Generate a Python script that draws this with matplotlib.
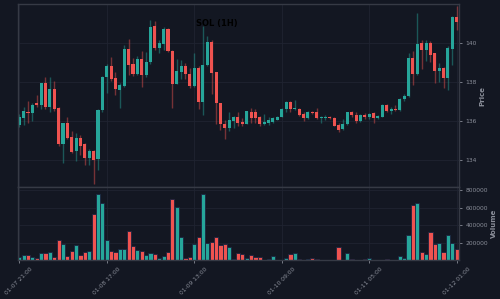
import pandas as pd
import numpy as np
import matplotlib
matplotlib.use("Agg")
import matplotlib.pyplot as plt

# hourly SOL candles, 2024-01-07 21:00 -> 2024-01-12 01:00
opens = [135.78, 136.14, 136.43, 136.39, 136.89, 136.80, 137.92, 136.73, 137.65, 136.68,
         134.81, 135.88, 135.15, 134.47, 135.10, 134.81, 134.09, 134.47, 134.04, 136.56,
         138.26, 138.84, 138.18, 137.58, 137.79, 139.69, 138.94, 138.38, 139.18, 138.33,
         139.01, 140.85, 139.74, 139.97, 140.71, 139.57, 137.91, 138.50, 138.84, 138.38,
         137.79, 138.69, 136.97, 138.89, 140.03, 138.50, 136.89, 135.83, 135.61, 136.00,
         136.19, 135.95, 135.86, 136.46, 136.46, 136.17, 135.83, 135.88, 135.95, 136.05,
         136.20, 136.60, 136.99, 136.60, 136.63, 136.37, 136.12, 136.44, 136.43, 136.12,
         136.14, 136.22, 136.12, 135.78, 135.57, 135.83, 136.43, 136.32, 136.00, 136.29,
         136.17, 136.39, 136.15, 136.22, 136.80, 136.51, 136.60, 136.55, 137.14, 137.28,
         139.23, 138.38, 140.00, 139.63, 140.00, 139.46, 138.55, 138.72, 138.21, 139.69,
         141.33]
highs = [136.34, 136.73, 137.02, 136.94, 137.33, 137.96, 138.25, 138.26, 138.04, 136.73,
         135.91, 136.17, 135.46, 135.35, 135.27, 134.84, 134.55, 134.50, 136.60, 138.30,
         138.94, 139.29, 138.50, 137.96, 139.91, 140.20, 139.23, 139.35, 139.57, 139.52,
         141.19, 141.11, 140.17, 140.82, 140.75, 139.66, 139.18, 139.10, 138.98, 138.72,
         139.49, 138.81, 140.85, 140.34, 140.17, 138.50, 136.94, 136.05, 136.46, 136.26,
         136.43, 136.12, 136.51, 136.68, 136.60, 136.26, 136.34, 136.17, 136.17, 136.26,
         136.68, 137.02, 137.02, 137.06, 136.68, 136.46, 136.51, 136.51, 136.68, 136.26,
         136.30, 136.26, 136.17, 135.91, 136.09, 136.46, 136.51, 136.43, 136.34, 136.39,
         136.39, 136.43, 136.29, 136.85, 136.85, 136.73, 136.80, 137.19, 137.36, 139.49,
         139.57, 141.53, 140.14, 140.17, 140.09, 139.49, 138.98, 138.76, 139.83, 141.36,
         141.91]
lows = [135.69, 135.80, 135.88, 136.00, 136.73, 136.60, 136.60, 136.43, 136.51, 134.72,
        133.82, 135.06, 134.33, 133.92, 134.26, 133.74, 133.74, 132.77, 133.45, 136.43,
        137.45, 138.04, 137.31, 136.65, 137.75, 138.33, 138.30, 138.33, 137.75, 138.26,
        138.94, 139.63, 139.49, 139.66, 139.52, 136.66, 137.87, 138.16, 138.13, 137.70,
        137.75, 136.60, 136.29, 138.81, 137.40, 135.83, 135.54, 135.06, 135.49, 135.61,
        135.74, 135.74, 135.83, 135.91, 135.91, 135.74, 135.78, 135.78, 135.91, 136.02,
        136.17, 136.43, 136.43, 136.56, 136.26, 136.00, 136.09, 136.34, 136.09, 135.91,
        136.05, 136.09, 135.71, 135.40, 135.54, 135.78, 136.22, 135.91, 135.95, 136.09,
        136.09, 135.91, 136.09, 136.17, 136.43, 136.34, 136.51, 136.51, 137.02, 137.24,
        137.82, 138.33, 138.67, 139.06, 139.00, 137.92, 137.99, 137.70, 137.58, 138.89,
        140.65]
closes = [136.22, 136.48, 136.38, 136.80, 136.80, 137.92, 136.73, 137.65, 136.60, 134.81,
          135.88, 135.10, 134.38, 135.10, 134.72, 134.08, 134.47, 134.01, 136.56, 138.26,
          138.84, 138.16, 137.62, 137.86, 139.69, 138.89, 138.38, 139.18, 138.33, 139.01,
          140.82, 139.74, 140.00, 140.71, 139.57, 137.91, 138.55, 138.84, 138.38, 137.79,
          138.72, 136.97, 138.89, 140.03, 138.47, 136.89, 135.83, 135.61, 136.05, 136.22,
          135.91, 135.83, 136.48, 136.12, 136.12, 135.83, 135.95, 136.02, 136.12, 136.22,
          136.63, 136.99, 136.60, 136.68, 136.29, 136.12, 136.43, 136.38, 136.12, 136.22,
          136.22, 136.12, 135.74, 135.54, 135.85, 136.43, 136.29, 136.00, 136.29, 136.20,
          136.34, 136.12, 136.26, 136.80, 136.51, 136.60, 136.55, 137.14, 137.28, 139.23,
          138.38, 139.95, 139.63, 140.00, 139.40, 138.55, 138.69, 138.21, 139.74, 141.33,
          141.09]
volumes = [36000, 63000, 55000, 33000, 21000, 78000, 78000, 90000, 40000, 226000,
           185000, 48000, 109000, 169000, 63000, 90000, 101000, 523000, 754000, 648000,
           230000, 109000, 97000, 131000, 128000, 333000, 158000, 112000, 109000, 63000,
           78000, 67000, 29000, 48000, 97000, 698000, 606000, 268000, 29000, 33000,
           181000, 264000, 751000, 200000, 211000, 264000, 177000, 181000, 147000, 10000,
           80000, 75000, 31000, 63000, 33000, 33000, 8000, 16000, 48000, 4000,
           6000, 30000, 72000, 85000, 18000, 6000, 10000, 22000, 19000, 3000,
           2000, 4000, 5000, 155000, 5000, 79000, 17000, 5000, 3000, 15000,
           23000, 4000, 5000, 8000, 10000, 5000, 4000, 44000, 31000, 283000,
           628000, 655000, 94000, 71000, 320000, 180000, 202000, 97000, 290000, 193000,
           125000]
times = pd.date_range("2024-01-07 21:00", periods=len(closes), freq="h")

bg = "#131722"
up_c = "#26a69a"
down_c = "#ef5350"
txt_c = "#8a8e99"
grid_c = "#1f2431"
spine_c = "#363a45"

x = np.arange(len(closes))
o = np.array(opens)
c = np.array(closes)
up = c >= o
cols = np.where(up, up_c, down_c)

fig = plt.figure(figsize=(5, 2.99), dpi=100, facecolor=bg)
ax = fig.add_axes([0.035, 0.3746, 0.8836, 0.612])
axv = fig.add_axes([0.035, 0.1294, 0.8836, 0.2452], sharex=ax)

for a in (ax, axv):
    a.set_facecolor(bg)
    a.grid(True, color=grid_c, linewidth=0.6)
    a.set_axisbelow(True)
    for s in a.spines.values():
        s.set_color(spine_c)
        s.set_linewidth(1.0)
    a.yaxis.tick_right()
    a.yaxis.set_label_position("right")
    a.tick_params(colors=txt_c, labelsize=4.3, length=2.5, width=0.6, pad=2)

# wicks then bodies
ax.vlines(x, lows, highs, colors=cols, linewidth=1.0, alpha=0.45)
ax.bar(x, np.abs(c - o), bottom=np.minimum(o, c), width=0.7, color=cols, linewidth=0)

ax.set_xlim(-0.4, 100.6)
ax.set_ylim(132.6, 142.0)
ax.set_yticks([134, 136, 138, 140])
ax.set_ylabel("Price", color=txt_c, fontsize=5, fontweight="bold", labelpad=2)
ax.tick_params(axis="x", labelbottom=False)

axv.bar(x, volumes, width=0.95, color=cols, edgecolor="#1c2440", linewidth=0.6)
axv.set_ylim(0, 834000)
axv.set_yticks([200000, 400000, 600000, 800000])
axv.set_yticklabels(["200000", "400000", "600000", "800000"])
axv.set_ylabel("Volume", color=txt_c, fontsize=5, fontweight="bold", labelpad=2)

tick_idx = [0, 20, 40, 60, 80, 100]
axv.set_xticks(tick_idx)
axv.set_xticklabels([times[i].strftime("%m-%d %H:%M") for i in tick_idx],
                    rotation=45, ha="center", fontsize=4.3)

fig.text(0.434, 0.92, "SOL (1H)", color="black", fontsize=6, fontweight="bold", ha="center", va="center")

fig.savefig("out.png", dpi=100, facecolor=bg)
